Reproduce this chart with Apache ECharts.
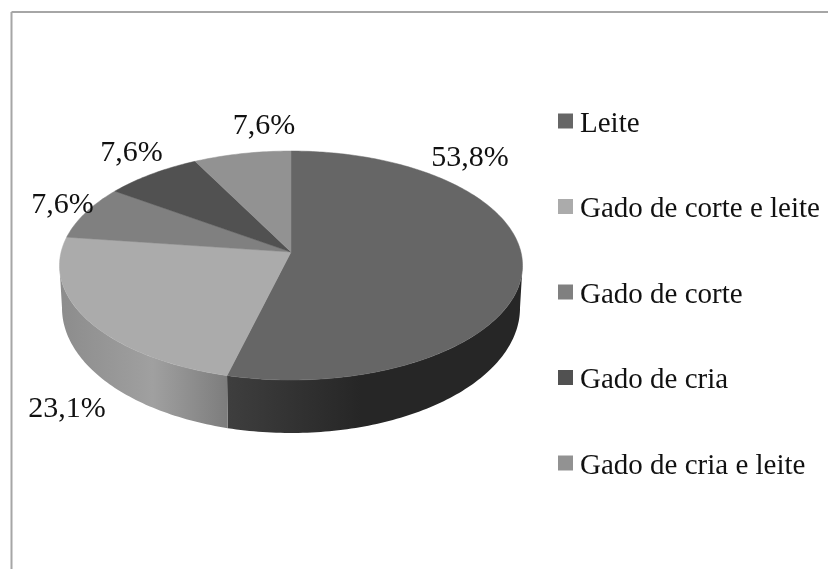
<!DOCTYPE html>
<html><head><meta charset="utf-8">
<script src="https://cdn.jsdelivr.net/npm/echarts@6/dist/echarts.min.js"></script>
<style>html,body{margin:0;padding:0;background:#fff}#c{width:828px;height:569px}</style></head>
<body><div id="c"></div>
<script>
const categories = ['Leite','Gado de corte e leite','Gado de corte','Gado de cria','Gado de cria e leite'];
const values = [53.8,23.1,7.6,7.6,7.6];
const topColors = ['#666666','#ababab','#808080','#515151','#929292'];
const labelAnchors = [[470,158],[67,409],[62.5,205],[131.5,153],[264,126]];

const FONT = '"Liberation Serif", serif';
const total = values.reduce((a,b)=>a+b,0);
const CX = 291, K = 0.118;
const TOP = {A:229.9,B:112.9,py:252}, BOT = {A:227.4,B:123.3,py:293.2};
function project(p,deg){
  const t = deg*Math.PI/180, u = Math.sin(t), v = -Math.cos(t), w = 1-K*v;
  return [CX+p.A*u/w, p.py+p.B*v/w];
}
function arc(p,a0,a1){
  const out=[], n=Math.max(2,Math.ceil(Math.abs(a1-a0)));
  for(let i=0;i<=n;i++) out.push(project(p,a0+(a1-a0)*i/n));
  return out;
}
const WALL_FROM = Math.acos(-K)*180/Math.PI, WALL_TO = 360-WALL_FROM;
const wallFills = [
  new echarts.graphic.LinearGradient(229,0,523,0,[{offset:0,color:'#3e3e3e'},{offset:.45,color:'#262626'},{offset:1,color:'#262626'}],true),
  new echarts.graphic.LinearGradient(60,0,229,0,[{offset:0,color:'#8c8c8c'},{offset:.55,color:'#a0a0a0'},{offset:1,color:'#7c7c7c'}],true)
];
let acc = 0;
const series = categories.map((name,i)=>{
  const start = acc/total*360; acc += values[i];
  const end = acc/total*360;
  return {
    type:'custom', name, coordinateSystem:'none', silent:true, animation:false,
    itemStyle:{color:topColors[i]},
    data:[[values[i]]],
    renderItem(params,api){
      const children=[];
      const a0=Math.max(start,WALL_FROM), a1=Math.min(end,WALL_TO);
      if(a1>a0){
        children.push({type:'polygon',shape:{points:arc(TOP,a0,a1).concat(arc(BOT,a0,a1).reverse())},
          style:{fill:wallFills[i]||topColors[i]}});
      }
      children.push({type:'polygon',shape:{points:[[CX,TOP.py]].concat(arc(TOP,start,end))},
        style:{fill:topColors[i],stroke:topColors[i],lineWidth:0.5}});
      children.push({type:'text',z2:10,style:{x:labelAnchors[i][0],y:labelAnchors[i][1],
        text:api.value(0).toFixed(1).replace('.',',')+'%',fill:'#111',font:'30px '+FONT,
        align:'center',verticalAlign:'middle'}});
      return {type:'group',z2:i,children};
    }
  };
});
const chart = echarts.init(document.getElementById('c'),null,{renderer:'canvas'});
chart.setOption({
  animation:false, backgroundColor:'#fff',
  legend:{orient:'vertical',left:558,top:109.5,itemWidth:15,itemHeight:15,itemGap:56.5,icon:'rect',
    data:categories,selectedMode:false,padding:0,
    formatter:'{a|{name}}',
    textStyle:{fontFamily:FONT,fontSize:29,color:'#111',
      rich:{a:{fontFamily:FONT,fontSize:29,color:'#111',padding:[6,0,0,2]}}}},
  graphic:[
    {type:'line',shape:{x1:11.5,y1:12,x2:828,y2:12},style:{stroke:'#a6a6a6',lineWidth:2},silent:true},
    {type:'line',shape:{x1:11.5,y1:12,x2:11.5,y2:569},style:{stroke:'#a6a6a6',lineWidth:2},silent:true}
  ],
  series
});
</script></body></html>
